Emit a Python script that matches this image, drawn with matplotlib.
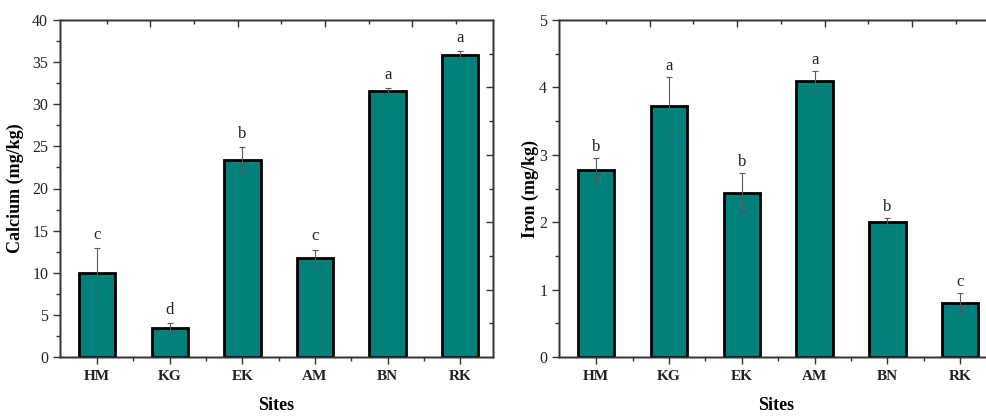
import matplotlib
matplotlib.use('Agg')
import matplotlib.pyplot as plt
from matplotlib.ticker import MultipleLocator, FixedLocator, NullFormatter
import numpy as np

plt.rcParams['font.family'] = ['Liberation Serif', 'DejaVu Serif']

# Mean concentrations per site with standard errors and significance letters
sites = ['HM', 'KG', 'EK', 'AM', 'BN', 'RK']
calcium = [10.0, 3.5, 23.4, 11.7, 31.6, 35.9]
calcium_err = [2.9, 0.5, 1.5, 1.0, 0.3, 0.4]
calcium_letters = ['c', 'd', 'b', 'c', 'a', 'a']
iron = [2.77, 3.73, 2.44, 4.10, 2.00, 0.80]
iron_err = [0.18, 0.43, 0.29, 0.15, 0.06, 0.15]
iron_letters = ['b', 'a', 'b', 'a', 'b', 'c']

bar_color = '#007f7b'

fig = plt.figure(figsize=(9.87, 4.17), dpi=100)
ax1 = fig.add_axes([60 / 987, 60 / 417, 433 / 987, 337 / 417])
ax2 = fig.add_axes([559 / 987, 60 / 417, 434 / 987, 337 / 417])


def draw_panel(ax, values, errs, letters, ylabel, ymax, major, letter_pad,
               label_x, right_step):
    x = np.arange(1, len(sites) + 1)
    ax.bar(x, values, width=0.5, color=bar_color, edgecolor='black',
           linewidth=2.0, zorder=2)
    ax.errorbar(x, values, yerr=errs, fmt='none', ecolor='#5a5a5a',
                elinewidth=0.8, capsize=2.5, capthick=0.8, zorder=3)
    for xi, v, e, lt in zip(x, values, errs, letters):
        ax.annotate(lt, (xi, v + e), xytext=(0, letter_pad),
                    textcoords='offset points', ha='center', va='bottom',
                    fontsize=12, color='#222222')

    ax.set_xlim(0.49, 6.45)
    ax.set_ylim(0, ymax)
    ax.set_xticks(x)
    ax.set_xticklabels(sites, fontweight='bold', fontsize=11)
    ax.xaxis.set_minor_locator(FixedLocator(x[:-1] + 0.5))
    ax.yaxis.set_major_locator(MultipleLocator(major))
    ax.yaxis.set_minor_locator(MultipleLocator(major / 2))
    ax.tick_params(which='major', direction='out', length=5, width=1,
                   labelsize=11.5, color='#333333', labelcolor='#222222')
    ax.tick_params(which='minor', direction='out', length=3, width=1,
                   color='#333333')
    ax.tick_params(axis='x', labelsize=11, pad=4)
    for s in ax.spines.values():
        s.set_linewidth(1.0)
        s.set_color('#333333')

    ax.set_xlabel('Sites', fontsize=13, fontweight='bold')
    ax.xaxis.set_label_coords(0.5, -0.12)
    ax.set_ylabel(ylabel, fontsize=13, fontweight='bold')
    ax.yaxis.set_label_coords(label_x, 0.5)

    # mirrored ticks on the top and right frames
    top = ax.twiny()
    top.set_xlim(-0.07, 9.85)
    top.xaxis.set_major_locator(FixedLocator([2, 4, 6, 8]))
    top.xaxis.set_minor_locator(FixedLocator([1, 3, 5, 7, 9]))
    top.xaxis.set_major_formatter(NullFormatter())
    top.tick_params(which='major', direction='in', length=5, width=1,
                    color='#333333')
    top.tick_params(which='minor', direction='in', length=3, width=1,
                    color='#333333')
    right = ax.twinx()
    right.set_ylim(0, ymax)
    right.yaxis.set_major_locator(FixedLocator(np.arange(right_step * 2, ymax, right_step * 2)))
    right.yaxis.set_minor_locator(FixedLocator(np.arange(right_step, ymax, right_step * 2)))
    right.yaxis.set_major_formatter(NullFormatter())
    right.tick_params(which='major', direction='in', length=5, width=1,
                      color='#333333')
    right.tick_params(which='minor', direction='in', length=3, width=1,
                      color='#333333')
    for a in (top, right):
        for s in a.spines.values():
            s.set_linewidth(1.0)
            s.set_color('#333333')


draw_panel(ax1, calcium, calcium_err, calcium_letters, 'Calcium (mg/kg)',
           40, 5, 4, -0.083, 4)
draw_panel(ax2, iron, iron_err, iron_letters, 'Iron (mg/kg)',
           5, 1, 2, -0.045, 0.5)

plt.savefig('out.png', dpi=100)
plt.close()
